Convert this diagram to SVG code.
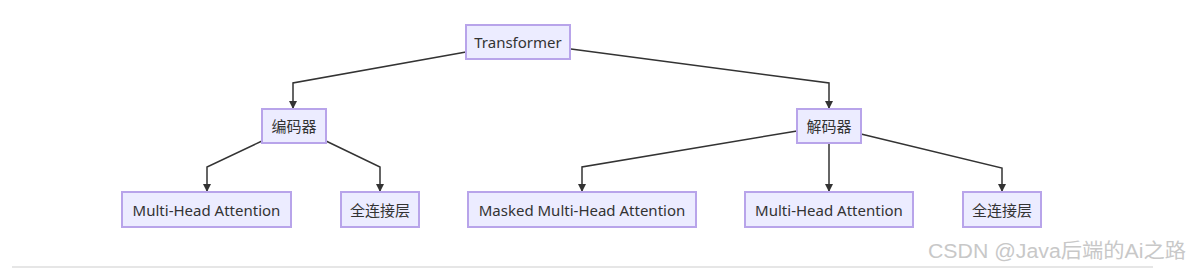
<svg xmlns="http://www.w3.org/2000/svg" width="1190" height="271" viewBox="0 0 1190 271">
<style>
.node rect{fill:#ECECFF;stroke:#b8a4ea;stroke-width:2}
.node text{font-family:"Noto Sans","Noto Sans CJK SC",sans-serif;font-size:15px;fill:#333;text-anchor:middle;dominant-baseline:central}
.edge{fill:none;stroke:#333;stroke-width:1.5;marker-end:url(#arrow)}
.wm{font-family:"Liberation Sans","Noto Sans CJK SC",sans-serif;font-size:20px;fill:#c8c8c8}
</style>
<defs>
<marker id="arrow" viewBox="0 0 10 10" refX="10" refY="5" markerWidth="8" markerHeight="10" markerUnits="userSpaceOnUse" orient="auto">
<path d="M0,0 L10,5 L0,10 z" fill="#333"/>
</marker>
</defs>
<rect width="1190" height="271" fill="#fff"/>
<g id="connectors">
<path class="edge" d="M466,52 L293,83 L293,109"/>
<path class="edge" d="M571,49 L829,83 L829,109"/>
<path class="edge" d="M262,141 L207,167 L207,192"/>
<path class="edge" d="M326,141 L380,167 L380,192"/>
<path class="edge" d="M797,131 L582,167 L582,192"/>
<path class="edge" d="M829,143 L829,192"/>
<path class="edge" d="M861,134 L1002,168 L1002,192"/>
</g>
<g id="transformer" class="node"><rect x="466" y="25" width="104" height="34"/><text x="518" y="42">Transformer</text></g>
<g id="encoder" class="node"><rect x="262" y="109" width="64" height="34"/><text x="294" y="126">编码器</text></g>
<g id="decoder" class="node"><rect x="797" y="109" width="64" height="34"/><text x="829" y="126">解码器</text></g>
<g id="enc-mha" class="node"><rect x="122" y="192" width="169" height="35"/><text x="206.5" y="209.5">Multi-Head Attention</text></g>
<g id="enc-fc" class="node"><rect x="341" y="192" width="78" height="35"/><text x="380" y="209.5">全连接层</text></g>
<g id="dec-masked" class="node"><rect x="468" y="192" width="228" height="35"/><text x="582" y="209.5">Masked Multi-Head Attention</text></g>
<g id="dec-mha" class="node"><rect x="745" y="192" width="168" height="35"/><text x="829" y="209.5">Multi-Head Attention</text></g>
<g id="dec-fc" class="node"><rect x="963" y="192" width="78" height="35"/><text x="1002" y="209.5">全连接层</text></g>
<line x1="12" y1="267" x2="1153" y2="267" stroke="#e6e6e6" stroke-width="2"/>
<text class="wm" x="928" y="258" textLength="258" lengthAdjust="spacingAndGlyphs">CSDN @Java后端的Ai之路</text>
</svg>
